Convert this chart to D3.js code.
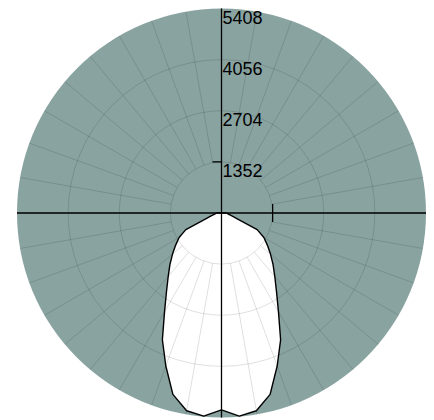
<!DOCTYPE html>
<html>
<head>
<meta charset="utf-8">
<script src="https://cdn.jsdelivr.net/npm/d3@7"></script>
<style>
  body { margin: 0; background: #fff; }
  svg { display: block; }
</style>
</head>
<body>
<div id="app"></div>
<script>
// luminous intensity, angle from nadir (deg) -> cd
const gammaAngles = [0, 5, 10, 15, 20, 25, 30, 35, 40, 45, 50, 55, 60, 65, 70, 75, 80, 85, 90];
const intensity   = [5205, 5390, 5310, 4967, 4306, 3699, 3012, 2536, 2193, 1929, 1691, 1480, 1295, 1041, 431, 272, 198, 159, 132];
const ringValues  = [1352, 2704, 4056, 5408];
const spokeAngles = d3.range(0, 360, 10);

const w = 434, h = 420;
const cx = 221.5, cy = 213, R = 204.5;

const svg = d3.select("#app").append("svg")
  .attr("width", w)
  .attr("height", h);

const r = d3.scaleLinear().domain([0, 5408]).range([0, R]);
const rad = d => d * Math.PI / 180;

const g = svg.append("g").attr("transform", "translate(" + cx + "," + cy + ")");

// background disc
g.append("circle")
  .attr("r", R)
  .attr("fill", "#89a3a1");

// intensity shape: right side (C0) then left side (C180)
const pts = [];
for (let i = gammaAngles.length - 1; i >= 0; i--) pts.push([Math.PI - rad(gammaAngles[i]), intensity[i]]);
for (let i = 1; i < gammaAngles.length; i++) pts.push([Math.PI + rad(gammaAngles[i]), intensity[i]]);

const shape = d3.lineRadial()
  .angle(d => d[0])
  .radius(d => r(d[1]))
  .curve(d3.curveLinearClosed);

g.append("path")
  .attr("d", shape(pts))
  .attr("fill", "#fff");

// grid
const grid = g.append("g")
  .attr("stroke", "#000")
  .attr("stroke-opacity", 0.16)
  .attr("stroke-width", 0.8)
  .attr("fill", "none");

grid.selectAll("circle")
  .data(ringValues.slice(0, -1))
  .enter().append("circle")
  .attr("r", d => r(d));

grid.selectAll("line")
  .data(spokeAngles)
  .enter().append("line")
  .attr("x1", d => r(ringValues[0]) * Math.sin(rad(d)))
  .attr("y1", d => -r(ringValues[0]) * Math.cos(rad(d)))
  .attr("x2", d => R * Math.sin(rad(d)))
  .attr("y2", d => -R * Math.cos(rad(d)));

// outline of curve
g.append("path")
  .attr("d", shape(pts))
  .attr("fill", "none")
  .attr("stroke", "#000")
  .attr("stroke-width", 1.4)
  .attr("stroke-linejoin", "round");

// axes
const axes = g.append("g").attr("stroke", "#000").attr("stroke-width", 1.3);
axes.append("line").attr("x1", -R).attr("x2", R).attr("y1", 0).attr("y2", 0);
axes.append("line").attr("y1", -R).attr("y2", R).attr("x1", 0).attr("x2", 0);
// small ticks at first ring
axes.append("line")
  .attr("x1", -9).attr("x2", 0)
  .attr("y1", -r(ringValues[0])).attr("y2", -r(ringValues[0]));
axes.append("line")
  .attr("x1", r(ringValues[0])).attr("x2", r(ringValues[0]))
  .attr("y1", -9).attr("y2", 9);

// ring labels
g.selectAll(".lbl")
  .data(ringValues)
  .enter().append("text")
  .attr("class", "lbl")
  .attr("x", 1)
  .attr("y", d => -r(d) + 15)
  .style("font-family", "'Liberation Sans', Arial, sans-serif")
  .style("font-size", "18px")
  .attr("fill", "#000")
  .text(d => d);
</script>
</body>
</html>
